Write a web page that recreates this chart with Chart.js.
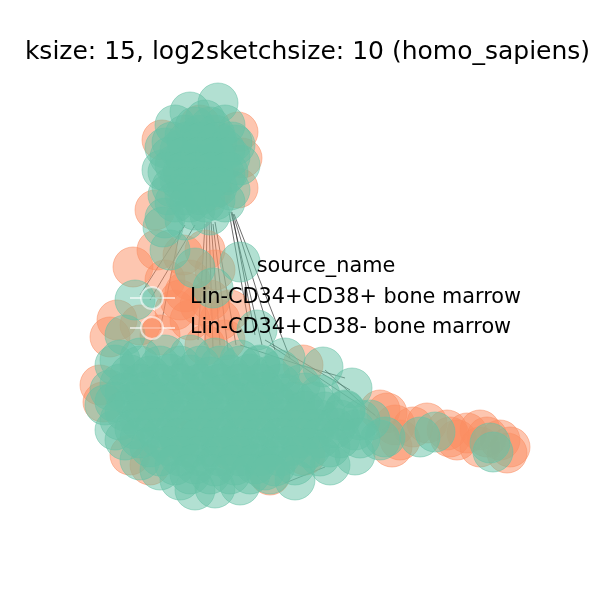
<!DOCTYPE html>
<html>
<head>
<meta charset="utf-8">
<script src="https://cdn.jsdelivr.net/npm/chart.js@4.4.0/dist/chart.umd.min.js"></script>
<style>
  html, body { margin: 0; padding: 0; background: #fff; }
</style>
</head>
<body>
<canvas id="myChart" width="600" height="600"></canvas>
<script>
var chart_title = 'ksize: 15, log2sketchsize: 10 (homo_sapiens)';
var legend_title = 'source_name';
var group_names = ['Lin-CD34+CD38+ bone marrow', 'Lin-CD34+CD38- bone marrow'];
var group_colors = ['rgba(102,194,165,0.5)', 'rgba(252,141,98,0.5)'];

// layout positions of the samples (spring layout units)
var cd38pos_nodes = [
    // upper cluster
    [-0.82,1.97],[-1.10,1.88],[-0.95,1.80],[-1.25,1.75],[-0.75,1.75],[-1.35,1.52],[-0.65,1.55],
    [-0.60,1.35],[-1.38,1.30],[-1.32,1.05],[-0.70,1.10],[-1.35,0.82],[-1.15,0.80],[-0.90,0.85],
    [-1.15,1.65],[-1.00,1.65],[-0.85,1.65],[-1.20,1.50],[-1.05,1.50],[-0.90,1.50],[-0.75,1.50],
    [-1.25,1.35],[-1.10,1.35],[-0.95,1.35],[-0.80,1.35],[-1.20,1.20],[-1.05,1.20],[-0.90,1.20],
    [-0.75,1.25],[-1.15,1.05],[-1.00,1.05],[-0.85,1.00],[-1.05,0.90],
    [-1.05,1.73],[-0.90,1.73],
    [-1.28,1.58],[-1.13,1.58],[-0.98,1.58],[-0.83,1.58],[-0.68,1.58],
    [-1.30,1.43],[-1.15,1.43],[-1.00,1.43],[-0.85,1.43],[-0.70,1.43],
    [-1.32,1.28],[-1.17,1.28],[-1.02,1.28],[-0.87,1.28],[-0.72,1.28],
    [-1.28,1.13],[-1.13,1.13],[-0.98,1.13],[-0.83,1.13],
    [-1.25,0.98],[-1.10,0.98],[-0.95,0.98],[-0.75,0.98],
    // between the clusters
    [-1.37,0.73],[-1.30,0.50],[-1.05,0.32],[-0.60,0.38],[-0.87,0.12],[-1.65,0.00],[-1.75,-0.35],
    [-0.43,-0.30],[-0.15,-0.58],[0.23,-0.67],[0.52,-0.88],
    // lower cluster
    [-1.85,-0.65],[-1.90,-0.90],[-1.95,-1.05],[-1.85,-1.30],[-1.75,-1.40],[-1.60,-1.60],[-1.40,-1.70],
    [-1.20,-1.80],[-1.05,-1.90],[-0.85,-1.88],[-0.60,-1.85],[-0.35,-1.70],[-0.05,-1.80],[0.30,-1.65],
    [0.55,-1.55],[0.80,-1.40],[0.85,-1.37],[0.70,-1.20],[0.45,-1.10],[0.20,-0.95],[0.00,-0.85],
    [-0.20,-0.70],[-0.40,-0.65],[-0.60,-0.60],[-0.85,-0.58],[-1.10,-0.55],[-1.35,-0.55],[-1.60,-0.58],
    [-1.80,-0.60],
    [-1.60,-0.66],[-1.40,-0.66],[-1.20,-0.66],[-1.00,-0.66],[-0.80,-0.66],[-0.60,-0.66],[-0.40,-0.66],
    [-1.70,-0.75],[-1.50,-0.76],[-1.30,-0.74],[-1.10,-0.75],[-0.90,-0.77],[-0.70,-0.75],[-0.50,-0.74],[-0.30,-0.76],
    [-1.80,-0.84],[-1.60,-0.84],[-1.40,-0.84],[-1.20,-0.84],[-1.00,-0.84],[-0.80,-0.84],[-0.60,-0.84],
    [-0.40,-0.84],[-0.20,-0.84],
    [-1.75,-0.93],[-1.55,-0.92],[-1.35,-0.94],[-1.15,-0.93],[-0.95,-0.92],[-0.75,-0.94],[-0.55,-0.93],
    [-0.35,-0.92],[-0.15,-0.94],[0.05,-0.93],
    [-1.85,-1.02],[-1.65,-1.02],[-1.45,-1.02],[-1.25,-1.02],[-1.05,-1.02],[-0.85,-1.02],[-0.65,-1.02],
    [-0.45,-1.02],[-0.25,-1.02],[-0.05,-1.02],[0.15,-1.02],
    [-1.75,-1.11],[-1.55,-1.12],[-1.35,-1.10],[-1.15,-1.11],[-0.95,-1.12],[-0.75,-1.10],[-0.55,-1.11],
    [-0.35,-1.12],[-0.15,-1.10],[0.05,-1.11],[0.25,-1.12],[0.45,-1.11],
    [-1.80,-1.20],[-1.60,-1.20],[-1.40,-1.20],[-1.20,-1.20],[-1.00,-1.20],[-0.80,-1.20],[-0.60,-1.20],
    [-0.40,-1.20],[-0.20,-1.20],[0.00,-1.20],[0.20,-1.20],[0.40,-1.20],[0.60,-1.20],
    [-1.65,-1.29],[-1.45,-1.28],[-1.25,-1.30],[-1.05,-1.29],[-0.85,-1.28],[-0.65,-1.30],[-0.45,-1.29],
    [-0.25,-1.28],[-0.05,-1.30],[0.15,-1.29],[0.35,-1.28],[0.55,-1.30],
    [-1.60,-1.38],[-1.40,-1.38],[-1.20,-1.38],[-1.00,-1.38],[-0.80,-1.38],[-0.60,-1.38],[-0.40,-1.38],
    [-0.20,-1.38],[0.00,-1.38],[0.20,-1.38],[0.40,-1.38],[0.60,-1.38],
    [-1.50,-1.47],[-1.30,-1.46],[-1.10,-1.48],[-0.90,-1.47],[-0.70,-1.46],[-0.50,-1.48],[-0.30,-1.47],
    [-0.10,-1.46],[0.10,-1.48],[0.30,-1.47],
    [-1.40,-1.56],[-1.20,-1.56],[-1.00,-1.56],[-0.80,-1.56],[-0.60,-1.56],[-0.40,-1.56],[-0.20,-1.56],
    [0.00,-1.56],[0.20,-1.56],
    [-1.25,-1.65],[-1.05,-1.64],[-0.85,-1.66],[-0.65,-1.65],[-0.45,-1.64],[-0.25,-1.66],[-0.05,-1.65],
    [-1.10,-1.74],[-0.90,-1.74],[-0.70,-1.74],[-0.50,-1.74],[-0.30,-1.74],
    // right tail
    [1.20,-1.37],[1.35,-1.32],[1.90,-1.43],[1.93,-1.52]
];
var cd38neg_nodes = [
    [-1.38,1.60],[-1.45,0.90],[-0.62,1.68],[-0.58,1.42],[-0.62,1.12],[-1.00,1.75],[-1.10,1.30],[-0.88,1.10],
    [-1.67,0.33],[-1.43,0.50],[-1.17,0.45],[-0.95,0.50],[-1.35,0.20],[-1.15,0.08],[-1.00,-0.05],
    [-1.25,-0.10],[-0.80,-0.20],[-0.75,-0.40],[-0.95,-0.45],[-1.83,-0.20],[-1.90,-0.37],[-1.60,-0.25],
    [-1.40,-0.35],[-1.10,0.20],[-0.90,0.00],[-1.10,-0.20],[-0.85,0.30],[-0.70,-0.10],[-1.20,0.00],
    [-2.00,-0.85],[-1.97,-1.02],[-1.70,-1.55],[-1.50,-1.65],[-0.30,-1.75],[0.05,-1.55],[0.03,-0.65],
    [0.80,-1.10],[0.87,-1.13],[0.95,-1.25],[1.00,-1.40],[0.92,-1.47],[-1.50,-1.00],[-1.00,-1.20],
    [-0.50,-1.10],[0.00,-1.20],[-1.20,-1.40],[-0.70,-1.50],
    [1.13,-1.27],[1.27,-1.23],[1.47,-1.30],[1.50,-1.37],[1.57,-1.40],[1.67,-1.33],[1.80,-1.30],
    [1.87,-1.37],[1.80,-1.47],[2.00,-1.40],[2.10,-1.47],[2.07,-1.53]
];
// similarity edges: [x1, y1, x2, y2]
var edges = [
    [-0.93,0.78,-0.95,-0.45],[-0.91,0.78,-0.87,-0.48],[-0.89,0.78,-0.80,-0.45],[-0.87,0.76,-0.72,-0.50],
    [-0.95,0.76,-1.02,-0.40],[-0.85,0.78,-0.64,-0.45],
    [-0.71,0.88,-0.52,-0.20],[-0.69,0.88,-0.38,-0.45],[-0.67,0.86,-0.25,-0.50],[-0.66,0.86,-0.10,-0.58],
    [-0.68,0.88,-0.45,-0.35],
    [-1.15,0.75,-1.60,0.05],[-1.05,0.75,-1.50,0.00],[-1.20,0.70,-1.40,-0.30],
    [-0.35,-0.40,0.50,-0.90],[-0.30,-0.45,0.75,-1.15],[0.00,-0.65,0.45,-0.78],[0.25,-0.70,0.80,-1.20],
    [-0.15,-1.83,0.25,-1.67],[-0.60,-0.45,0.00,-0.65]
];

function to_points(list) {
    return list.map(function (p) { return {x: p[0], y: p[1]}; });
}

var datasets = [];
datasets.push({
    label: group_names[0], data: to_points(cd38pos_nodes), node_group: 0, order: 1,
    backgroundColor: group_colors[0], borderColor: group_colors[0], borderWidth: 1, pointRadius: 20
});
datasets.push({
    label: group_names[1], data: to_points(cd38neg_nodes), node_group: 1, order: 2,
    backgroundColor: group_colors[1], borderColor: group_colors[1], borderWidth: 1, pointRadius: 20
});
edges.forEach(function (e) {
    datasets.push({
        data: [{x: e[0], y: e[1]}, {x: e[2], y: e[3]}], order: 3, showLine: true,
        borderColor: 'rgba(30,30,30,0.65)', borderWidth: 1, pointRadius: 0
    });
});

// legend drawn over the plot like the matplotlib one (no frame)
var nodeLegend = {
    id: 'nodeLegend',
    afterDatasetsDraw: function (chart) {
        var ctx = chart.ctx;
        ctx.save();
        ctx.font = '20.8px "DejaVu Sans"';
        ctx.fillStyle = '#000';
        ctx.textBaseline = 'middle';
        ctx.textAlign = 'center';
        ctx.fillText(legend_title, 326, 267);
        ctx.textAlign = 'left';
        chart.data.datasets.forEach(function (ds) {
            if (ds.node_group === undefined) return;
            var y = 298 + ds.node_group * 30;
            ctx.strokeStyle = 'rgba(255,255,255,0.6)';
            ctx.lineWidth = 2;
            ctx.beginPath();
            ctx.moveTo(130, y);
            ctx.lineTo(175, y);
            ctx.stroke();
            ctx.beginPath();
            ctx.arc(152, y, 11, 0, Math.PI * 2);
            ctx.fillStyle = ds.backgroundColor;
            ctx.fill();
            ctx.stroke();
            ctx.fillStyle = '#000';
            ctx.fillText(ds.label, 190, y);
        });
        ctx.restore();
    }
};

var ctx = document.getElementById('myChart').getContext('2d');
var myChart = new Chart(ctx, {
    type: 'scatter',
    data: { datasets: datasets },
    options: {
        responsive: false,
        animation: false,
        layout: { padding: { left: 15 }, autoPadding: false },
        scales: {
            x: { display: false, min: -2.85, max: 3 },
            y: { display: false, min: -3, max: 2.33 }
        },
        plugins: {
            legend: { display: false },
            tooltip: { enabled: false },
            title: {
                display: true,
                text: chart_title,
                color: '#000',
                font: { family: 'DejaVu Sans', size: 25, weight: 'normal', lineHeight: 1.2 },
                padding: { top: 37, bottom: 0 }
            }
        }
    },
    plugins: [nodeLegend]
});
</script>
</body>
</html>
